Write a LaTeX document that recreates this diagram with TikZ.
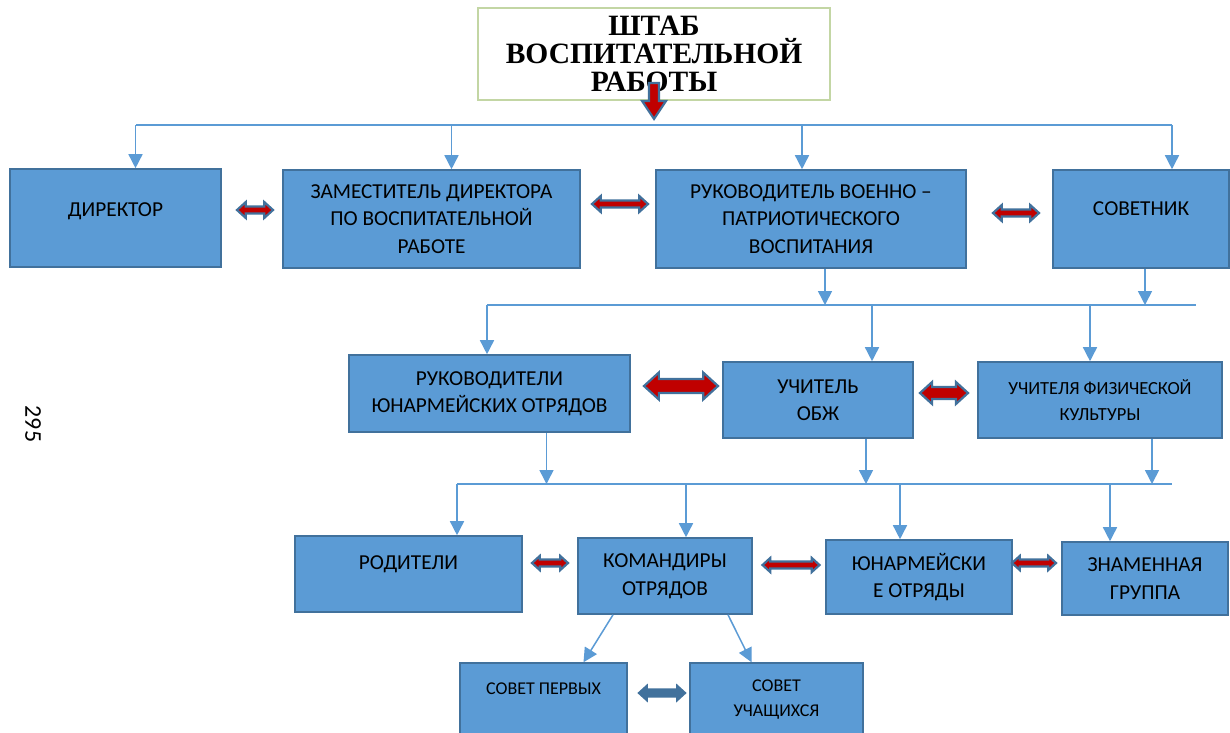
\documentclass[tikz,border=0pt]{standalone}
\usepackage{fontspec}
\setmainfont{Carlito}
\newfontfamily\shtabfont{Liberation Serif}
\usetikzlibrary{positioning}
\usetikzlibrary{arrows.meta, calc}
\definecolor{boxfill}{HTML}{5B9BD5}
\definecolor{boxline}{HTML}{41719C}
\definecolor{linkblue}{HTML}{5B9BD5}
\definecolor{darkred}{HTML}{C00000}
\definecolor{shtabline}{HTML}{C3D6A4}
\tikzstyle{unit} = [rectangle, draw=boxline, line width=1.6pt, fill=boxfill, text centered, align=center, inner sep=0pt, font=\fontsize{21.3}{27.5}\selectfont]
\tikzstyle{shtab} = [rectangle, draw=shtabline, line width=1.8pt, fill=white, align=center, inner sep=0pt, minimum width=352pt, minimum height=92pt, font=\shtabfont\bfseries\fontsize{29.5}{28}\selectfont]
\tikzstyle{link} = [draw=linkblue, line width=1.5pt, -{Triangle[width=14pt,length=14pt]}]
\tikzstyle{bus} = [draw=linkblue, line width=1.5pt]
\tikzstyle{twoway} = [draw=boxline, line width=2.2pt, line join=miter]
\tikzset{raised/.style={text height=15pt, text depth=#1}}
% block arrow: [fill]{centre}{length}{shaft}{head}
\newcommand{\twoway}[5][darkred]{%
  \pgfmathsetmacro\twa{#3/2}\pgfmathsetmacro\twb{#4/2}%
  \pgfmathsetmacro\twc{#5/2}\pgfmathsetmacro\twd{#3/2-0.55*#5}%
  \begin{scope}[shift={#2}]
    \draw[twoway, fill=#1] (-\twa,0) -- (-\twd,-\twc) -- (-\twd,-\twb) -- (\twd,-\twb) -- (\twd,-\twc)
      -- (\twa,0) -- (\twd,\twc) -- (\twd,\twb) -- (-\twd,\twb) -- (-\twd,\twc) -- cycle;
  \end{scope}}

\begin{document}
\begin{tikzpicture}[x=1pt, y=-1pt]

        \path[use as bounding box, fill=white] (0,0) rectangle (1230,732);

        % Staff box on top
        \node[shtab] (shtab) at (654,54) {ШТАБ\\ВОСПИТАТЕЛЬНОЙ\\РАБОТЫ};
        \begin{scope}[shift={(shtab.south)}]
            \draw[twoway, fill=darkred] (-5,-18) -- (5,-18) -- (5,0) -- (12,0) -- (0,18) -- (-12,0) -- (-5,0) -- cycle;
        \end{scope}

        % First row
        \node[unit, minimum width=211pt, minimum height=98pt, raised=18pt] (dir) at (115.5,218) {ДИРЕКТОР};
        \node[unit, minimum width=297pt, minimum height=98pt] (zam) at (431.5,219) {ЗАМЕСТИТЕЛЬ ДИРЕКТОРА\\ПО ВОСПИТАТЕЛЬНОЙ\\РАБОТЕ};
        \node[unit, minimum width=310pt, minimum height=98pt] (ruk) at (811,219) {РУКОВОДИТЕЛЬ ВОЕННО –\\ПАТРИОТИЧЕСКОГО\\ВОСПИТАНИЯ};
        \node[unit, minimum width=176pt, minimum height=98pt, raised=22pt] (sov) at (1141,219) {СОВЕТНИК};

        % Second row
        \node[unit, minimum width=281pt, minimum height=77pt] (rukyun) at (489.5,393.5) {РУКОВОДИТЕЛИ\\ЮНАРМЕЙСКИХ ОТРЯДОВ};
        \node[unit, minimum width=190pt, minimum height=76pt] (obzh) at (818,400) {УЧИТЕЛЬ\\ОБЖ};
        \node[unit, minimum width=244pt, minimum height=76pt, font=\fontsize{18.5}{26}\selectfont] (fiz) at (1100,400) {УЧИТЕЛЯ ФИЗИЧЕСКОЙ\\КУЛЬТУРЫ};

        % Third row
        \node[unit, minimum width=227pt, minimum height=76pt, raised=24pt] (rod) at (408.5,574) {РОДИТЕЛИ};
        \node[unit, minimum width=174pt, minimum height=76pt] (kom) at (665,576) {КОМАНДИРЫ\\ОТРЯДОВ};
        \node[unit, minimum width=186pt, minimum height=74pt] (yun) at (919,577) {ЮНАРМЕЙСКИ\\Е ОТРЯДЫ};
        \node[unit, minimum width=166pt, minimum height=73pt] (znam) at (1145,578.5) {ЗНАМЕННАЯ\\ГРУППА};

        % Councils
        \node[unit, minimum width=167pt, minimum height=74pt, font=\fontsize{18}{25}\selectfont, raised=26pt] (sovp) at (543.5,700) {СОВЕТ ПЕРВЫХ};
        \node[unit, minimum width=173pt, minimum height=74pt, font=\fontsize{18}{25}\selectfont] (sovu) at (776.5,700) {СОВЕТ\\УЧАЩИХСЯ};

        % Page number
        \node[rotate=-90, font=\fontsize{24}{24}\selectfont] (page) at (33,424) {295};

        % Bus lines
        \coordinate (b1w) at (136,125);
        \coordinate (b1e) at (1172,125);
        \coordinate (b2w) at (487,305);
        \coordinate (b2e) at (1196,305);
        \coordinate (b3w) at (457,484);
        \coordinate (b3e) at (1172,484);
        \draw[bus] (b1w) -- (b1e);
        \draw[bus] (b2w) -- (b2e);
        \draw[bus] (b3w) -- (b3e);

        % Connections
        \draw[link] ([xshift=20]dir.north |- b1w) -- ([xshift=20]dir.north);
        \draw[link] ([xshift=20]zam.north |- b1w) -- ([xshift=20]zam.north);
        \draw[link] ([xshift=-9]ruk.north |- b1w) -- ([xshift=-9]ruk.north);
        \draw[link] (b1e) -- (b1e |- sov.north);

        \draw[link] ([xshift=14]ruk.south) -- ([xshift=14]ruk.south |- b2w);
        \draw[link] ([xshift=4]sov.south) -- ([xshift=4]sov.south |- b2w);
        \draw[link] (b2w) -- (b2w |- rukyun.north);
        \draw[link] ([xshift=54]obzh.north |- b2w) -- ([xshift=54]obzh.north);
        \draw[link] ([xshift=-10]fiz.north |- b2w) -- ([xshift=-10]fiz.north);

        \draw[link] ([xshift=57]rukyun.south) -- ([xshift=57]rukyun.south |- b3w);
        \draw[link] ([xshift=48]obzh.south) -- ([xshift=48]obzh.south |- b3w);
        \draw[link] ([xshift=52]fiz.south) -- ([xshift=52]fiz.south |- b3w);
        \draw[link] (b3w) -- (b3w |- rod.north);
        \draw[link] ([xshift=21]kom.north |- b3w) -- ([xshift=21]kom.north);
        \draw[link] ([xshift=-19]yun.north |- b3w) -- ([xshift=-19]yun.north);
        \draw[link] ([xshift=-35]znam.north |- b3w) -- ([xshift=-35]znam.north);

        \draw[link] ([xshift=-52]kom.south) -- ([xshift=40]sovp.north);
        \draw[link] ([xshift=63]kom.south) -- ([xshift=-25]sovu.north);

        % Two-way arrows
        \twoway{(255,210)}{36}{7}{16}
        \twoway{(620,204)}{56}{7}{16}
        \twoway{(1016,213)}{46}{7}{16}
        \twoway{(681,386)}{74}{14}{27}
        \twoway{(944,393)}{48}{12}{22}
        \twoway{(550,563)}{36}{7}{14}
        \twoway{(791,565)}{57}{7}{14}
        \twoway{(1034,563)}{44}{7}{14}
        \twoway[boxline]{(662,693)}{46}{7}{14}

    \end{tikzpicture}
\end{document}
